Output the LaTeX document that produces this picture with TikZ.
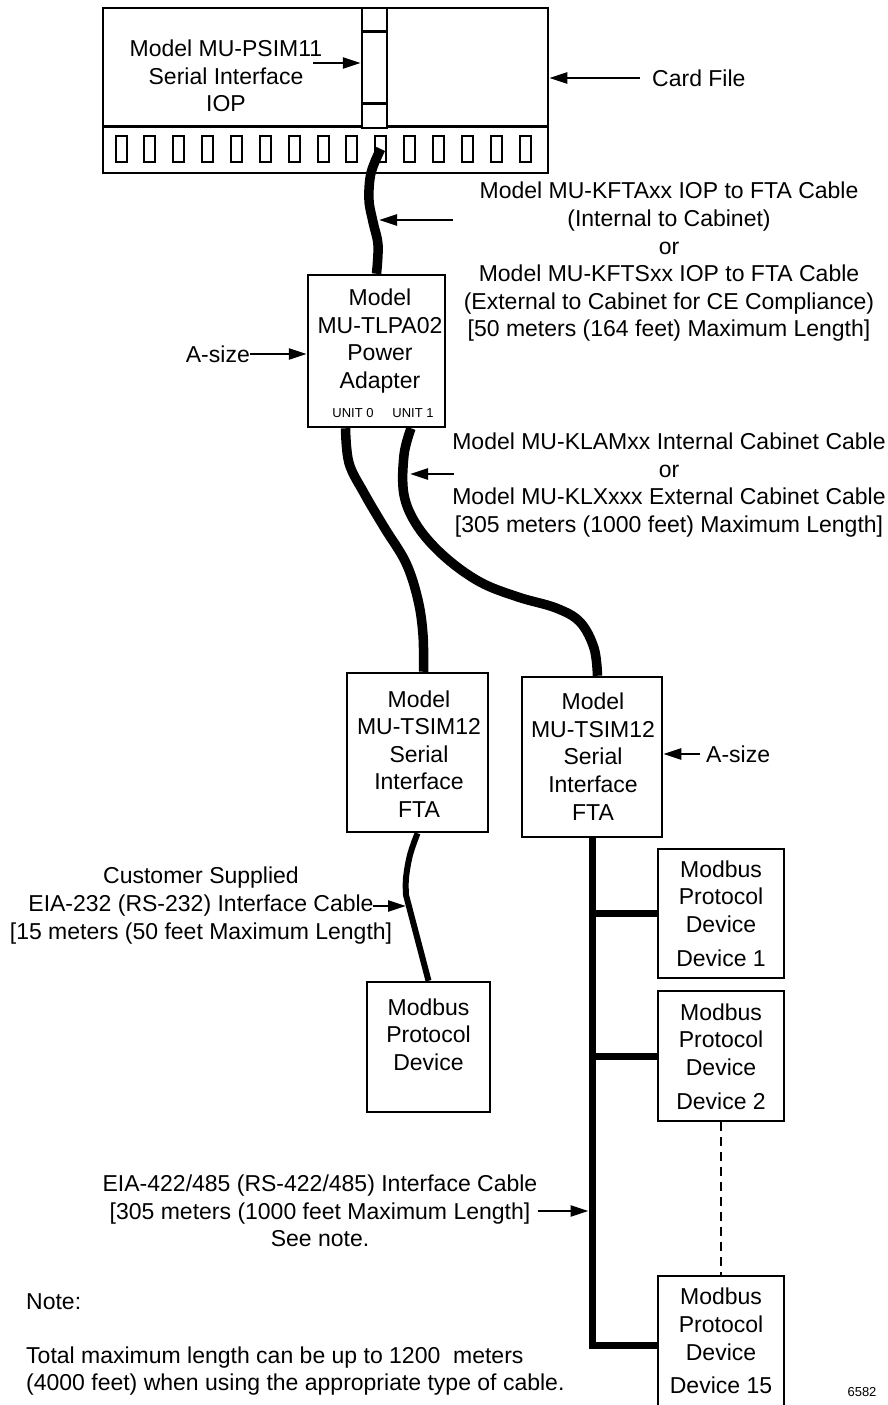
\documentclass[tikz,border=0pt]{standalone}
\usepackage{fontspec}
\setmainfont{Liberation Sans}
\usetikzlibrary{arrows.meta, positioning, calc}

\newcommand\dgmfont{\fontsize{23}{27.6}\selectfont}
\newcommand\smallfont{\fontsize{13}{15}\selectfont}

\tikzset{
  box/.style={draw, line width=2.5pt, fill=white, inner sep=0pt},
  txt/.style={align=center, font=\dgmfont, inner sep=0pt},
  notetxt/.style={align=left, font=\dgmfont, inner sep=0pt, anchor=west},
  arr/.style={line width=2.5pt, -{Triangle[length=18pt, width=11pt]}},
  cable/.style={line width=9.5pt},
  thincable/.style={line width=6pt},
  bus/.style={line width=7pt},
}

\begin{document}
\begin{tikzpicture}[x=1pt, y=-1pt]
  \useasboundingbox (0,0) rectangle (888,1405);

  % ---- card file with IOP ----
  \node[box, minimum width=445pt, minimum height=165pt] (cardfile) at (325.5,90.5) {};
  \draw[line width=2.5pt] ([yshift=48pt]cardfile.south west) -- ([yshift=48pt]cardfile.south east);
  \node[box, minimum width=25pt, minimum height=120pt] (iop) at (374.5,68) {};
  \draw[line width=2.5pt] ([yshift=-25pt]iop.north west) -- ([yshift=-25pt]iop.north east);
  \draw[line width=2.5pt] ([yshift=26pt]iop.south west) -- ([yshift=26pt]iop.south east);
  % slots along the bottom of the card file
  \foreach \i in {0,...,14}
    \node[box, line width=2pt, minimum width=11pt, minimum height=26pt] (slot\i) at ({121+28.86*\i},149) {};

  \node[txt] (psim) at (226,76) {Model MU-PSIM11\\Serial Interface\\IOP};
  \coordinate (psimarrow) at (313,63);
  \draw[arr] (psimarrow) -- (psimarrow -| iop.west);

  \node[txt, anchor=west] (cardlbl) at (652,78) {Card File};
  \draw[arr] ([xshift=-12pt]cardlbl.west) -- (cardlbl.west -| cardfile.east);

  % ---- power adapter ----
  \node[box, minimum width=137pt, minimum height=152pt] (tlpa) at (376.5,351) {};
  \node[txt] (tlpatxt) at (380,341) {Model\\MU-TLPA02\\Power\\Adapter};
  \node[font=\smallfont, inner sep=0pt] (unit0) at (353,413) {UNIT 0};
  \node[font=\smallfont, inner sep=0pt] (unit1) at (413,413) {UNIT 1};

  \node[txt, anchor=east] (asize1) at (250,354) {A-size};
  \draw[arr] (asize1.east) -- (asize1.east -| tlpa.west);

  % ---- IOP to FTA cable ----
  \draw[cable] plot[smooth, tension=0.6] coordinates
    {(slot9.center) (371,173) (369,200) (373,222) (378,245) (tlpa.north)};
  \node[txt] (kfta) at (669,262) {Model MU-KFTAxx IOP to FTA Cable\\(Internal to Cabinet)\\or\\Model MU-KFTSxx IOP to FTA Cable\\(External to Cabinet for CE Compliance)\\\relax[50 meters (164 feet) Maximum Length]};
  \coordinate (kftafrom) at (453,220);
  \coordinate (kftato) at (379,220);
  \draw[arr] (kftafrom) -- (kftato);

  % ---- FTAs ----
  \node[box, minimum width=141pt, minimum height=159pt] (tsimL) at (417.5,752.5) {};
  \node[txt] (tsimLtxt) at (419,754) {Model\\MU-TSIM12\\Serial\\Interface\\FTA};
  \node[box, minimum width=140pt, minimum height=160pt] (tsimR) at (592,757) {};
  \node[txt] (tsimRtxt) at (593,756.5) {Model\\MU-TSIM12\\Serial\\Interface\\FTA};

  \node[txt, anchor=west] (asize2) at (706,754) {A-size};
  \draw[arr] ([xshift=-6pt]asize2.west) -- (asize2.west -| tsimR.east);

  % ---- adapter to FTA cables ----
  \coordinate (u0) at ([xshift=-31pt]tlpa.south);
  \coordinate (u1) at ([xshift=34.5pt]tlpa.south);
  \coordinate (t0) at ([xshift=6pt]tsimL.north);
  \coordinate (t1) at ([xshift=5.5pt]tsimR.north);
  \draw[cable] plot[smooth, tension=0.6] coordinates
    {(u0) (349,463) (364,493) (384,527) (406,563) (418,600) (423,635) (t0)};
  \draw[cable] plot[smooth, tension=0.6] coordinates
    {(u1) (404,455) (404,495) (418,527) (445,557) (480,582) (518,597) (556,608) (580,622) (594,648) (t1)};

  \node[txt] (klam) at (669,485) {Model MU-KLAMxx Internal Cabinet Cable\\or\\Model MU-KLXxxx External Cabinet Cable\\\relax[305 meters (1000 feet) Maximum Length]};
  \coordinate (klamfrom) at (454,474);
  \coordinate (klamto) at (410,474);
  \draw[arr] (klamfrom) -- (klamto);

  % ---- EIA-232 side ----
  \node[box, minimum width=123pt, minimum height=130pt] (modbus) at (428.5,1047) {};
  \node[txt] (modbustxt) at (428.5,1034.5) {Modbus\\Protocol\\Device};
  \draw[thincable] plot[smooth, tension=0.6] coordinates
    {(tsimL.south) (410,855) (406,878) (406,895)} -- (modbus.north);
  \node[txt] (cust) at (201,905.5) {Customer Supplied\\EIA-232 (RS-232) Interface Cable\\\relax[15 meters (50 feet Maximum Length]};
  \coordinate (custfrom) at (373,906);
  \coordinate (custto) at (406,906);
  \draw[arr] (custfrom) -- (custto);

  % ---- EIA-422/485 bus ----
  \node[box, minimum width=126pt, minimum height=129pt] (dev1) at (721,913.5) {};
  \node[txt] (dev1txt) at (721,913.5) {Modbus\\Protocol\\Device\\[6pt]Device 1};
  \node[box, minimum width=126pt, minimum height=130pt] (dev2) at (721,1056) {};
  \node[txt] (dev2txt) at (721,1056.5) {Modbus\\Protocol\\Device\\[6pt]Device 2};
  \node[box, minimum width=126pt, minimum height=138pt] (dev15) at (721,1345) {};
  \node[txt] (dev15txt) at (721,1341) {Modbus\\Protocol\\Device\\[6pt]Device 15};

  \coordinate (b1) at (tsimR.south |- dev1.west);
  \coordinate (b2) at (tsimR.south |- dev2.west);
  \coordinate (b15) at (tsimR.south |- dev15.west);
  \draw[bus] (tsimR.south) -- (b15) -- (dev15.west);
  \draw[bus] (b1) -- (dev1.west);
  \draw[bus] (b2) -- (dev2.west);
  \draw[line width=2pt, dash pattern=on 9pt off 6pt] (dev2.south) -- (dev15.north);

  \node[txt] (eia) at (320,1211) {EIA-422/485 (RS-422/485) Interface Cable\\\relax[305 meters (1000 feet Maximum Length]\\See note.};
  \draw[arr, shorten >=3.5pt] (eia.east) -- (eia.east -| tsimR.south);

  % ---- note ----
  \node[notetxt] (note) at (26,1302) {Note:};
  \node[notetxt] (notebody) at (26,1371) {Total maximum length can be up to 1200\ \ meters\\(4000 feet) when using the appropriate type of cable.};
  \node[font=\smallfont, inner sep=0pt] (figno) at (862,1392) {6582};
\end{tikzpicture}
\end{document}
